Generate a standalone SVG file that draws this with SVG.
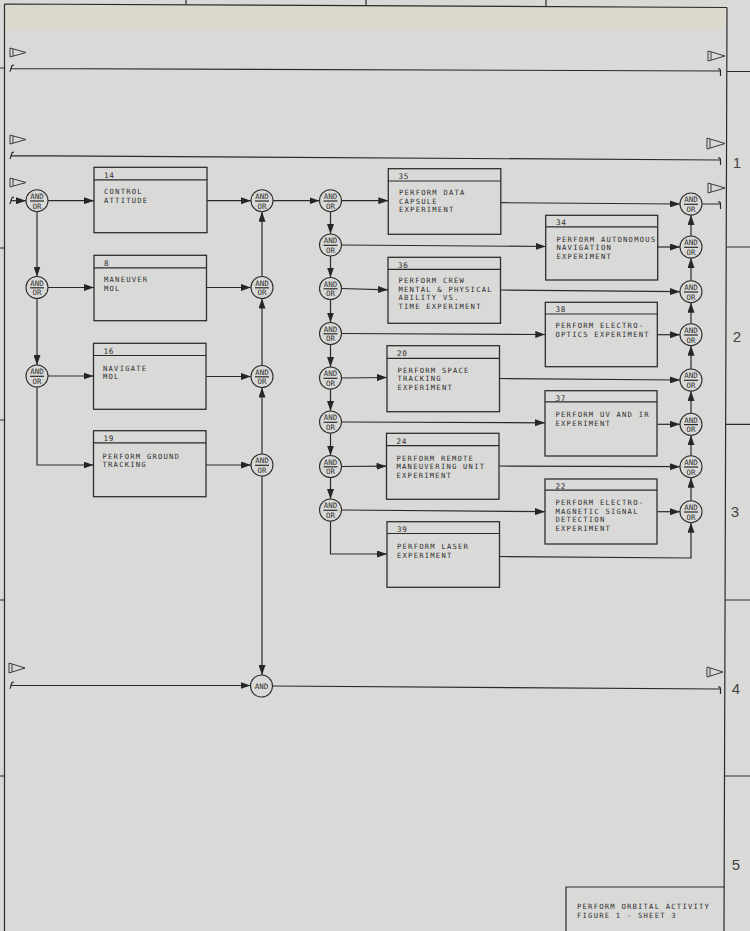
<svg xmlns="http://www.w3.org/2000/svg" width="750" height="931" viewBox="0 0 750 931">
<defs>
<marker id="ah" markerWidth="10" markerHeight="7" refX="10" refY="3.5" orient="auto" markerUnits="userSpaceOnUse"><path d="M0,0 L10,3.5 L0,7 z" fill="#262626"/></marker>
<style>
.ln{stroke:#2a2a2a;stroke-width:1.2;fill:none}
.ar{stroke:#2a2a2a;stroke-width:1.2;fill:none;marker-end:url(#ah)}
.bx{fill:none;stroke:#2e2e2e;stroke-width:1.3}
.gt{fill:none;stroke:#2e2e2e;stroke-width:1.1}
.t{font-family:"DejaVu Sans Mono",monospace;font-size:7.2px;letter-spacing:1.22px;fill:#2f2f2f}
.n{font-family:"DejaVu Sans Mono",monospace;font-size:7.6px;letter-spacing:0.6px;fill:#2f2f2f}
.g{font-family:"DejaVu Sans Mono",monospace;font-size:7.4px;fill:#333;text-anchor:middle}
.num{font-family:"Liberation Sans",sans-serif;font-size:15px;fill:#444;text-anchor:middle}
.fl{fill:none;stroke:#3a3a3a;stroke-width:1}
</style>
</defs>
<rect x="0" y="0" width="750" height="931" fill="#d9d9d7"/>
<rect x="5" y="5" width="720" height="24" fill="#dbd8c9" opacity="0.7"/>

<g id="frame">
<path class="ln" d="M4.5,4 L727,7.5 M4.5,4 V931 M727,7.5 L724,931"/>
<path class="ln" d="M186,0 V4.8 M366,0 V5.7 M546,0 V6.6"/>
<path class="ln" d="M727,71.5 H750 M726.5,247 H750 M726,424.3 H750 M725.5,600 H750 M724.5,776 H750"/>
<path class="ln" d="M0,68 H4.5 M0,248 H4.5 M0,420 H4.5 M0,600 H4.5 M0,776 H4.5"/>
<text class="num" x="737" y="168">1</text>
<text class="num" x="737" y="342">2</text>
<text class="num" x="735" y="517">3</text>
<text class="num" x="736" y="694">4</text>
<text class="num" x="736" y="870">5</text>
</g>

<g id="title-block">
<path class="ln" d="M566,931 V887 H724.5"/>
<text class="t" x="577" y="909.3">PERFORM ORBITAL ACTIVITY</text>
<text class="t" x="577" y="917.8">FIGURE 1 - SHEET 3</text>
</g>

<g id="flags">
<path class="fl" d="M10,48 L26,52.5 L10,57 Z M13,49 V56"/>
<path class="fl" d="M708,51 L725,56 L708,61 Z M711,52 V60"/>
<path class="fl" d="M10,135 L26,139.5 L10,144 Z M13,136 V143"/>
<path class="fl" d="M707,138 L725,143.5 L707,149 Z M710,139 V148"/>
<path class="fl" d="M10,178 L26,182.5 L10,187 Z M13,179 V186"/>
<path class="fl" d="M708,183 L725,188 L708,193 Z M711,184 V192"/>
<path class="fl" d="M9,663 L25,668 L9,673 Z M12,664 V672"/>
<path class="fl" d="M707,667 L723,672 L707,677 Z M710,668 V676"/>
</g>

<g id="connectors">
<path class="ln" d="M11,68.5 L720,71 M718,69 Q720.5,68.5 720.5,71 V76 M9.5,71.5 Q10.5,71.5 11,68.5 L12,65.5 Q12.5,65 14,65"/>
<path class="ln" d="M11,155.7 L720,160 M718,158 Q720.5,157.5 720.5,160 V165 M9.5,158.7 Q10.5,158.7 11,155.7 L12,152.7 Q12.5,152.2 14,152.2"/>
<path class="ar" d="M11,200.7 H26"/>
<path class="ln" d="M9.5,203.7 Q10.5,203.7 11,200.7 L12,197.7 Q12.5,197.2 14,197.2"/>
<path class="ar" d="M11,685.5 H250.5"/>
<path class="ln" d="M9.5,688.5 Q10.5,688.5 11,685.5 L12,682.5 Q12.5,682 14,682"/>
<path class="ln" d="M272.5,686 L720,689 M718,687 Q720.5,686.5 720.5,689 V694"/>
<path class="ln" d="M702,204 H720 M718,202 Q720.5,201.5 720.5,204 V209"/>
<path class="ar" d="M48,200.7 H94"/>
<path class="ar" d="M37,211.7 V276.5"/>
<path class="ar" d="M48,287.5 H94"/>
<path class="ar" d="M37,298.5 V365"/>
<path class="ar" d="M48,376 H93.5"/>
<path class="ar" d="M37,387 V465 H93.5"/>
<path class="ar" d="M207,200.7 H251"/>
<path class="ar" d="M206.5,287.5 H251"/>
<path class="ar" d="M206,376.5 H251"/>
<path class="ar" d="M206,465 H251"/>
<path class="ar" d="M262,454 V387.5"/>
<path class="ar" d="M262,365.5 V298.5"/>
<path class="ar" d="M262,276.5 V211.7"/>
<path class="ar" d="M262,476 V675"/>
<path class="ar" d="M273,200.7 H319.5"/>
<path class="ar" d="M341.5,200.7 H388.3"/>
<path class="ar" d="M330.5,211.7 V234"/>
<path class="ar" d="M330.5,256 V277.5"/>
<path class="ar" d="M330.5,299.5 V322.5"/>
<path class="ar" d="M330.5,344.5 V367"/>
<path class="ar" d="M330.5,389 V411"/>
<path class="ar" d="M330.5,433 V455.5"/>
<path class="ar" d="M330.5,477.5 V499"/>
<path class="ar" d="M341.5,245 L545.7,246.5"/>
<path class="ar" d="M341.5,288.5 L388,289.8"/>
<path class="ar" d="M341.5,333.5 L545.3,334.5"/>
<path class="ar" d="M341.5,378 L387,377.5"/>
<path class="ar" d="M341.5,422 L545,422.8"/>
<path class="ar" d="M341.5,466.5 L386.5,466.2"/>
<path class="ar" d="M341.5,510 L545,511.7"/>
<path class="ar" d="M330.5,521 V554 H387"/>
<path class="ar" d="M500.8,202.7 L680,204"/>
<path class="ar" d="M657.8,247 H680"/>
<path class="ar" d="M500.5,290 L680,291.7"/>
<path class="ar" d="M657.5,334.7 H680"/>
<path class="ar" d="M499.5,378.5 L680,380"/>
<path class="ar" d="M657,424.3 H680"/>
<path class="ar" d="M499,466 L680,466.7"/>
<path class="ar" d="M657,511.7 H680"/>
<path class="ar" d="M499.5,556.5 L691,558 V522.7"/>
<path class="ar" d="M691,500.7 V477.7"/>
<path class="ar" d="M691,455.7 V435.3"/>
<path class="ar" d="M691,413.3 V391"/>
<path class="ar" d="M691,369 V345.7"/>
<path class="ar" d="M691,323.7 V302.7"/>
<path class="ar" d="M691,280.7 V258"/>
<path class="ar" d="M691,236 V215"/>
</g>

<g id="gates">
<g id="g-in"><circle class="gt" cx="37" cy="200.7" r="11"/><text class="g" x="37" y="199">AND</text><path class="ln" d="M30,201 H44"/><text class="g" x="37" y="208.5">OR</text></g>
<g id="g-l2"><circle class="gt" cx="37" cy="287.5" r="11"/><text class="g" x="37" y="285.8">AND</text><path class="ln" d="M30,287.8 H44"/><text class="g" x="37" y="295.3">OR</text></g>
<g id="g-l3"><circle class="gt" cx="37" cy="376" r="11"/><text class="g" x="37" y="374.3">AND</text><path class="ln" d="M30,376.3 H44"/><text class="g" x="37" y="383.8">OR</text></g>
<g id="g-r1"><circle class="gt" cx="262" cy="200.7" r="11"/><text class="g" x="262" y="199">AND</text><path class="ln" d="M255,201 H269"/><text class="g" x="262" y="208.5">OR</text></g>
<g id="g-r2"><circle class="gt" cx="262" cy="287.5" r="11"/><text class="g" x="262" y="285.8">AND</text><path class="ln" d="M255,287.8 H269"/><text class="g" x="262" y="295.3">OR</text></g>
<g id="g-r3"><circle class="gt" cx="262" cy="376.5" r="11"/><text class="g" x="262" y="374.8">AND</text><path class="ln" d="M255,376.8 H269"/><text class="g" x="262" y="384.3">OR</text></g>
<g id="g-r4"><circle class="gt" cx="262" cy="465" r="11"/><text class="g" x="262" y="463.3">AND</text><path class="ln" d="M255,465.3 H269"/><text class="g" x="262" y="472.8">OR</text></g>
<g id="g-and"><circle class="gt" cx="261.5" cy="686" r="11"/><text class="g" x="261.5" y="688.8">AND</text></g>
<g id="g-m1"><circle class="gt" cx="330.5" cy="200.7" r="11"/><text class="g" x="330.5" y="199">AND</text><path class="ln" d="M323.5,201 H337.5"/><text class="g" x="330.5" y="208.5">OR</text></g>
<g id="g-m2"><circle class="gt" cx="330.5" cy="245" r="11"/><text class="g" x="330.5" y="243.3">AND</text><path class="ln" d="M323.5,245.3 H337.5"/><text class="g" x="330.5" y="252.8">OR</text></g>
<g id="g-m3"><circle class="gt" cx="330.5" cy="288.5" r="11"/><text class="g" x="330.5" y="286.8">AND</text><path class="ln" d="M323.5,288.8 H337.5"/><text class="g" x="330.5" y="296.3">OR</text></g>
<g id="g-m4"><circle class="gt" cx="330.5" cy="333.5" r="11"/><text class="g" x="330.5" y="331.8">AND</text><path class="ln" d="M323.5,333.8 H337.5"/><text class="g" x="330.5" y="341.3">OR</text></g>
<g id="g-m5"><circle class="gt" cx="330.5" cy="378" r="11"/><text class="g" x="330.5" y="376.3">AND</text><path class="ln" d="M323.5,378.3 H337.5"/><text class="g" x="330.5" y="385.8">OR</text></g>
<g id="g-m6"><circle class="gt" cx="330.5" cy="422" r="11"/><text class="g" x="330.5" y="420.3">AND</text><path class="ln" d="M323.5,422.3 H337.5"/><text class="g" x="330.5" y="429.8">OR</text></g>
<g id="g-m7"><circle class="gt" cx="330.5" cy="466.5" r="11"/><text class="g" x="330.5" y="464.8">AND</text><path class="ln" d="M323.5,466.8 H337.5"/><text class="g" x="330.5" y="474.3">OR</text></g>
<g id="g-m8"><circle class="gt" cx="330.5" cy="510" r="11"/><text class="g" x="330.5" y="508.3">AND</text><path class="ln" d="M323.5,510.3 H337.5"/><text class="g" x="330.5" y="517.8">OR</text></g>
<g id="g-o1"><circle class="gt" cx="691" cy="204" r="11"/><text class="g" x="691" y="202.3">AND</text><path class="ln" d="M684,204.3 H698"/><text class="g" x="691" y="211.8">OR</text></g>
<g id="g-o2"><circle class="gt" cx="691" cy="247" r="11"/><text class="g" x="691" y="245.3">AND</text><path class="ln" d="M684,247.3 H698"/><text class="g" x="691" y="254.8">OR</text></g>
<g id="g-o3"><circle class="gt" cx="691" cy="291.7" r="11"/><text class="g" x="691" y="290">AND</text><path class="ln" d="M684,292 H698"/><text class="g" x="691" y="299.5">OR</text></g>
<g id="g-o4"><circle class="gt" cx="691" cy="334.7" r="11"/><text class="g" x="691" y="333">AND</text><path class="ln" d="M684,335 H698"/><text class="g" x="691" y="342.5">OR</text></g>
<g id="g-o5"><circle class="gt" cx="691" cy="380" r="11"/><text class="g" x="691" y="378.3">AND</text><path class="ln" d="M684,380.3 H698"/><text class="g" x="691" y="387.8">OR</text></g>
<g id="g-o6"><circle class="gt" cx="691" cy="424.3" r="11"/><text class="g" x="691" y="422.6">AND</text><path class="ln" d="M684,424.6 H698"/><text class="g" x="691" y="432.1">OR</text></g>
<g id="g-o7"><circle class="gt" cx="691" cy="466.7" r="11"/><text class="g" x="691" y="465">AND</text><path class="ln" d="M684,467 H698"/><text class="g" x="691" y="474.5">OR</text></g>
<g id="g-o8"><circle class="gt" cx="691" cy="511.7" r="11"/><text class="g" x="691" y="510">AND</text><path class="ln" d="M684,512 H698"/><text class="g" x="691" y="519.5">OR</text></g>
</g>

<g id="box14"><rect class="bx" x="94" y="167.3" width="113" height="65.4"/><path class="ln" d="M94,179.8 H207"/><text class="n" x="104" y="177.8">14</text><text class="t" x="104" y="194">CONTROL</text><text class="t" x="104" y="202.5">ATTITUDE</text></g>
<g id="box8"><rect class="bx" x="94" y="255.3" width="112.5" height="65.4"/><path class="ln" d="M94,267.8 H206.5"/><text class="n" x="104" y="265.8">8</text><text class="t" x="104" y="282.2">MANEUVER</text><text class="t" x="104" y="290.7">MOL</text></g>
<g id="box16"><rect class="bx" x="93.5" y="343.3" width="112.5" height="66"/><path class="ln" d="M93.5,355.5 H206"/><text class="n" x="103.5" y="353.8">16</text><text class="t" x="103" y="370.6">NAVIGATE</text><text class="t" x="103" y="379.1">MOL</text></g>
<g id="box19"><rect class="bx" x="93.5" y="430.7" width="112.5" height="66"/><path class="ln" d="M93.5,442.9 H206"/><text class="n" x="103.5" y="441.2">19</text><text class="t" x="102.5" y="458.8">PERFORM GROUND</text><text class="t" x="102.5" y="467.3">TRACKING</text></g>
<g id="box35"><rect class="bx" x="388.3" y="168.7" width="112.5" height="65.6"/><path class="ln" d="M388.3,181 H500.8"/><text class="n" x="398.5" y="179">35</text><text class="t" x="399" y="195.3">PERFORM DATA</text><text class="t" x="399" y="203.8">CAPSULE</text><text class="t" x="399" y="212.3">EXPERIMENT</text></g>
<g id="box36"><rect class="bx" x="388" y="257.3" width="112.5" height="66"/><path class="ln" d="M388,269.3 H500.5"/><text class="n" x="398" y="267.8">36</text><text class="t" x="398.5" y="283.4">PERFORM CREW</text><text class="t" x="398.5" y="291.9">MENTAL &amp; PHYSICAL</text><text class="t" x="398.5" y="300.4">ABILITY VS.</text><text class="t" x="398.5" y="308.9">TIME EXPERIMENT</text></g>
<g id="box20"><rect class="bx" x="387" y="345.7" width="112.5" height="66"/><path class="ln" d="M387,358.3 H499.5"/><text class="n" x="397" y="356.3">20</text><text class="t" x="397.5" y="372.7">PERFORM SPACE</text><text class="t" x="397.5" y="381.2">TRACKING</text><text class="t" x="397.5" y="389.7">EXPERIMENT</text></g>
<g id="box24"><rect class="bx" x="386.5" y="433.3" width="112.5" height="66"/><path class="ln" d="M386.5,445.7 H499"/><text class="n" x="396.5" y="443.8">24</text><text class="t" x="396.5" y="460.7">PERFORM REMOTE</text><text class="t" x="396.5" y="469.2">MANEUVERING UNIT</text><text class="t" x="396.5" y="477.7">EXPERIMENT</text></g>
<g id="box39"><rect class="bx" x="387" y="521.7" width="112.5" height="65.6"/><path class="ln" d="M387,533.5 H499.5"/><text class="n" x="397" y="532">39</text><text class="t" x="397" y="549">PERFORM LASER</text><text class="t" x="397" y="557.5">EXPERIMENT</text></g>
<g id="box34"><rect class="bx" x="545.7" y="215.3" width="112" height="64.7"/><path class="ln" d="M545.7,226.8 H657.7"/><text class="n" x="556" y="225.3">34</text><text class="t" x="556.5" y="241.7">PERFORM AUTONOMOUS</text><text class="t" x="556.5" y="250.2">NAVIGATION</text><text class="t" x="556.5" y="258.7">EXPERIMENT</text></g>
<g id="box38"><rect class="bx" x="545.3" y="302.3" width="112" height="64.4"/><path class="ln" d="M545.3,314 H657.3"/><text class="n" x="555.5" y="312.3">38</text><text class="t" x="555.5" y="328.3">PERFORM ELECTRO-</text><text class="t" x="555.5" y="336.8">OPTICS EXPERIMENT</text></g>
<g id="box37"><rect class="bx" x="545" y="390.7" width="112" height="65.3"/><path class="ln" d="M545,401.9 H657"/><text class="n" x="555.5" y="400.5">37</text><text class="t" x="555.5" y="417.3">PERFORM UV AND IR</text><text class="t" x="555.5" y="425.8">EXPERIMENT</text></g>
<g id="box22"><rect class="bx" x="545" y="479" width="112" height="65"/><path class="ln" d="M545,490.2 H657"/><text class="n" x="555.5" y="488.8">22</text><text class="t" x="555.5" y="505">PERFORM ELECTRO-</text><text class="t" x="555.5" y="513.5">MAGNETIC SIGNAL</text><text class="t" x="555.5" y="522">DETECTION</text><text class="t" x="555.5" y="530.5">EXPERIMENT</text></g>
</svg>
